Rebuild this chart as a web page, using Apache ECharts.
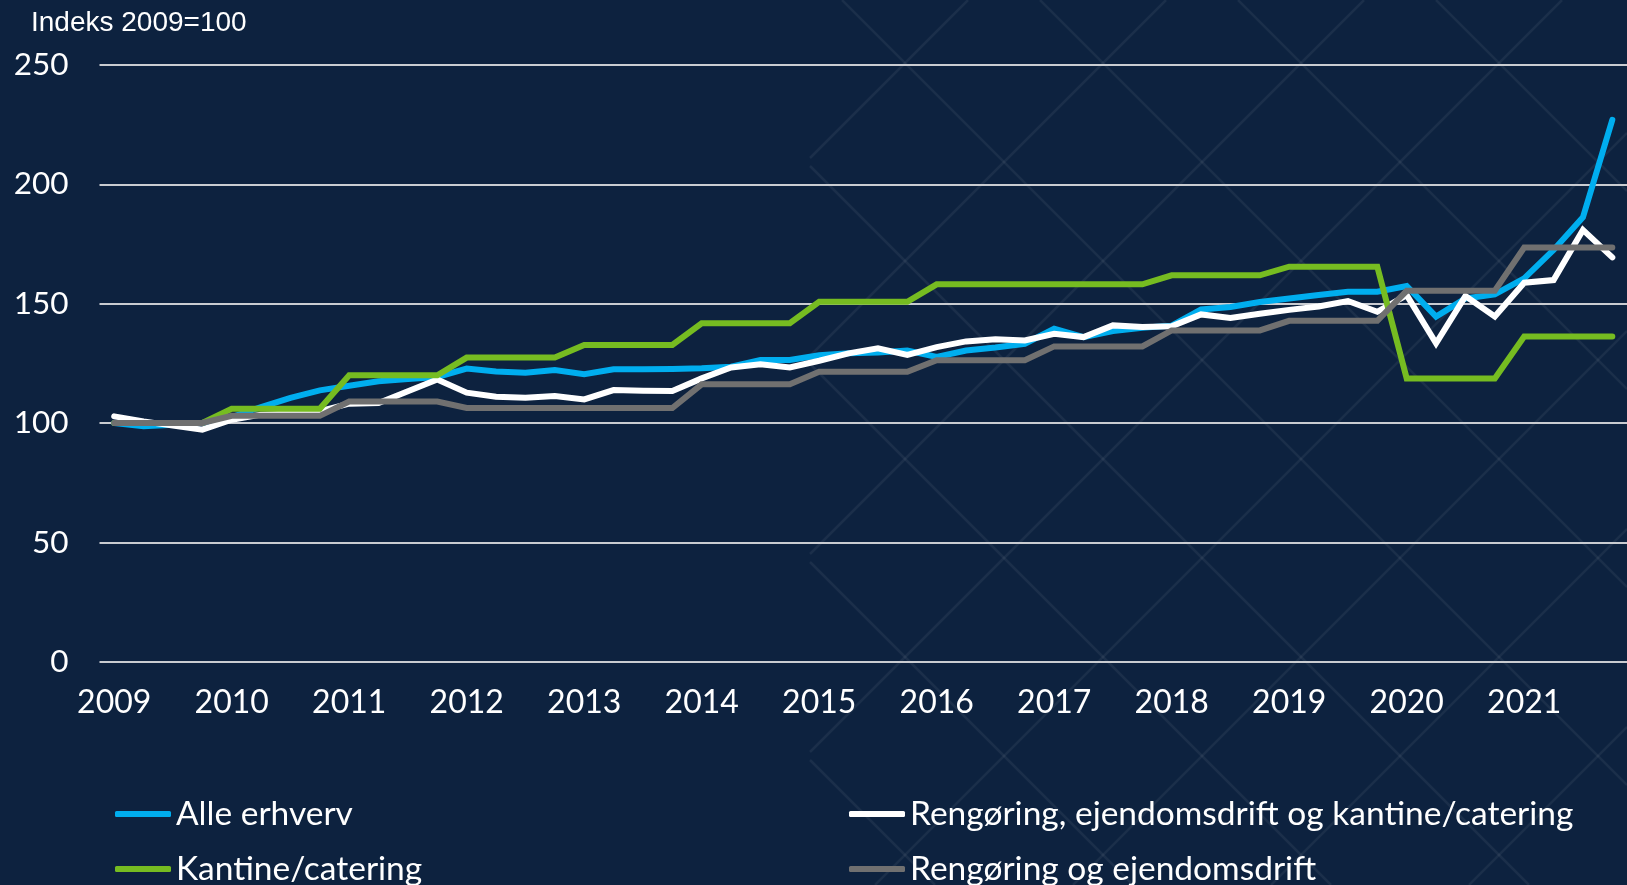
<!DOCTYPE html>
<html>
<head>
<meta charset="utf-8">
<script src="https://cdn.jsdelivr.net/npm/echarts@6/dist/echarts.min.js"></script>
<style>
html,body{margin:0;padding:0;background:#0d223f;}
#chart{width:1627px;height:885px;}
</style>
</head>
<body>
<div id="chart"></div>
<script>
const years = ['2009','2010','2011','2012','2013','2014','2015','2016','2017','2018','2019','2020','2021'];
const quarters = ['K1','K2','K3','K4'];
const categories = years.flatMap(y => quarters.map(q => y + q));

const seriesNames = [
  'Alle erhverv',
  'Rengøring, ejendomsdrift og kantine/catering',
  'Kantine/catering',
  'Rengøring og ejendomsdrift'
];

const alleErhverv = [
  100, 98.6, 99.3, 100, 102.5, 106.7, 110.5, 113.7,
  115.6, 117.5, 118.4, 119.3, 122.8, 121.6, 121.1, 122.2,
  120.4, 122.5, 122.5, 122.6, 122.9, 123.6, 126.4, 126.4,
  128.4, 129.2, 129.5, 130.4, 127.7, 130.4, 131.6, 133.2,
  139.5, 136, 138.5, 139.9, 140.8, 147.6, 148.6, 150.7,
  152.2, 153.6, 155, 155, 157.4, 144.6, 152.2, 153.9,
  160.6, 172.5, 186.2, 227
];
const rengoeringKantine = [
  102.8, 100.7, 98.9, 97.2, 101.4, 103.5, 104, 105,
  108.1, 108.4, 113.3, 118.2, 112.7, 111, 110.6, 111.3,
  109.9, 113.8, 113.5, 113.4, 118.7, 123.3, 124.6, 123.3,
  126.1, 129.2, 131.3, 128.5, 131.8, 134.2, 135.1, 134.6,
  137.4, 136, 140.9, 140.2, 140.5, 145.5, 144, 145.8,
  147.4, 148.8, 151.1, 146.6, 153.6, 133.4, 153.2, 144.6,
  158.8, 159.9, 180.9, 169.4
];
const kantineCatering = [
  100, 100, 100, 100, 106, 106, 106, 106,
  120, 120, 120, 120, 127.4, 127.4, 127.4, 127.4,
  132.7, 132.7, 132.7, 132.7, 141.8, 141.8, 141.8, 141.8,
  150.8, 150.8, 150.8, 150.8, 158.1, 158.1, 158.1, 158.1,
  158.1, 158.1, 158.1, 158.1, 161.9, 161.9, 161.9, 161.9,
  165.5, 165.5, 165.5, 165.5, 118.7, 118.7, 118.7, 118.7,
  136.2, 136.2, 136.2, 136.2
];
const rengoeringEjendom = [
  100, 100, 100, 100, 103, 103, 103, 103,
  109, 109, 109, 109, 106.3, 106.3, 106.3, 106.3,
  106.3, 106.3, 106.3, 106.3, 116.2, 116.2, 116.2, 116.2,
  121.5, 121.5, 121.5, 121.5, 126.3, 126.3, 126.3, 126.3,
  132.1, 132.1, 132.1, 132.1, 138.8, 138.8, 138.8, 138.8,
  142.8, 142.8, 142.8, 142.8, 155.4, 155.4, 155.4, 155.4,
  173.5, 173.5, 173.5, 173.5
];
const seriesColors = ['#00aeef', '#ffffff', '#76bc21', '#707070'];
const seriesData = [alleErhverv, rengoeringKantine, kantineCatering, rengoeringEjendom];

// decorative background lattice (right half)
const W = 1627, H = 885, X0 = 810, STEP = 198;
const pattern = [];
const patStyle = { stroke: 'rgba(255,255,255,0.06)', lineWidth: 2.5 };
for (let c = -842 - STEP * 6; c < H; c += STEP) {
  const xa = Math.max(X0, -c), xb = Math.min(W, H - c);
  if (xb > xa) pattern.push({ type: 'line', z: -100, silent: true, shape: { x1: xa, y1: xa + c, x2: xb, y2: xb + c }, style: patStyle });
}
for (let d = 968 - STEP * 6; d < W + H + STEP; d += STEP) {
  const xa = Math.max(X0, d - H), xb = Math.min(W, d);
  if (xb > xa) pattern.push({ type: 'line', z: -100, silent: true, shape: { x1: xa, y1: d - xa, x2: xb, y2: d - xb }, style: patStyle });
}

const font = 'Lato';
const legendPos = [
  { left: 115, top: 796 },
  { left: 849, top: 796 },
  { left: 115, top: 851 },
  { left: 849, top: 851 }
];
const legends = seriesNames.map((name, i) => ({
  data: [name],
  orient: 'horizontal',
  left: legendPos[i].left, top: legendPos[i].top,
  itemWidth: 56, itemHeight: 6, icon: 'roundRect', padding: 0,
  textStyle: { color: '#ffffff', fontFamily: font, fontSize: 33.5, lineHeight: 36 }
}));

const chart = echarts.init(document.getElementById('chart'), null, { renderer: 'canvas' });
const option = {
  backgroundColor: '#0d223f',
  animation: false,
  title: {
    text: 'Indeks 2009=100',
    left: 31, top: 9, padding: 0,
    textStyle: { color: '#ffffff', fontFamily: 'Liberation Sans', fontSize: 28, fontWeight: 'normal' }
  },
  graphic: { elements: pattern },
  grid: { left: 99.5, right: -12.5, top: 65, bottom: 223.3, containLabel: false },
  legend: legends,
  xAxis: {
    type: 'category',
    data: categories,
    boundaryGap: true,
    axisLine: { show: false },
    axisTick: { show: false },
    axisLabel: {
      interval: 3,
      margin: 25,
      color: '#ffffff', fontFamily: font, fontSize: 32,
      formatter: v => v.slice(0, 4)
    },
    splitLine: { show: false }
  },
  yAxis: {
    type: 'value',
    min: 0, max: 250, interval: 50,
    axisLine: { show: false },
    axisTick: { show: false },
    axisLabel: { margin: 31, color: '#ffffff', fontFamily: font, fontSize: 31.5 },
    splitLine: { lineStyle: { color: '#c9ccd1', width: 2 } }
  },
  series: seriesNames.map((name, i) => ({
    name,
    type: 'line',
    data: seriesData[i],
    symbol: 'none',
    showSymbol: false,
    z: 2 + i,
    lineStyle: { color: seriesColors[i], width: 6, cap: 'round', join: 'miter' },
    itemStyle: { color: seriesColors[i] }
  }))
};
chart.setOption(option);
</script>
</body>
</html>
